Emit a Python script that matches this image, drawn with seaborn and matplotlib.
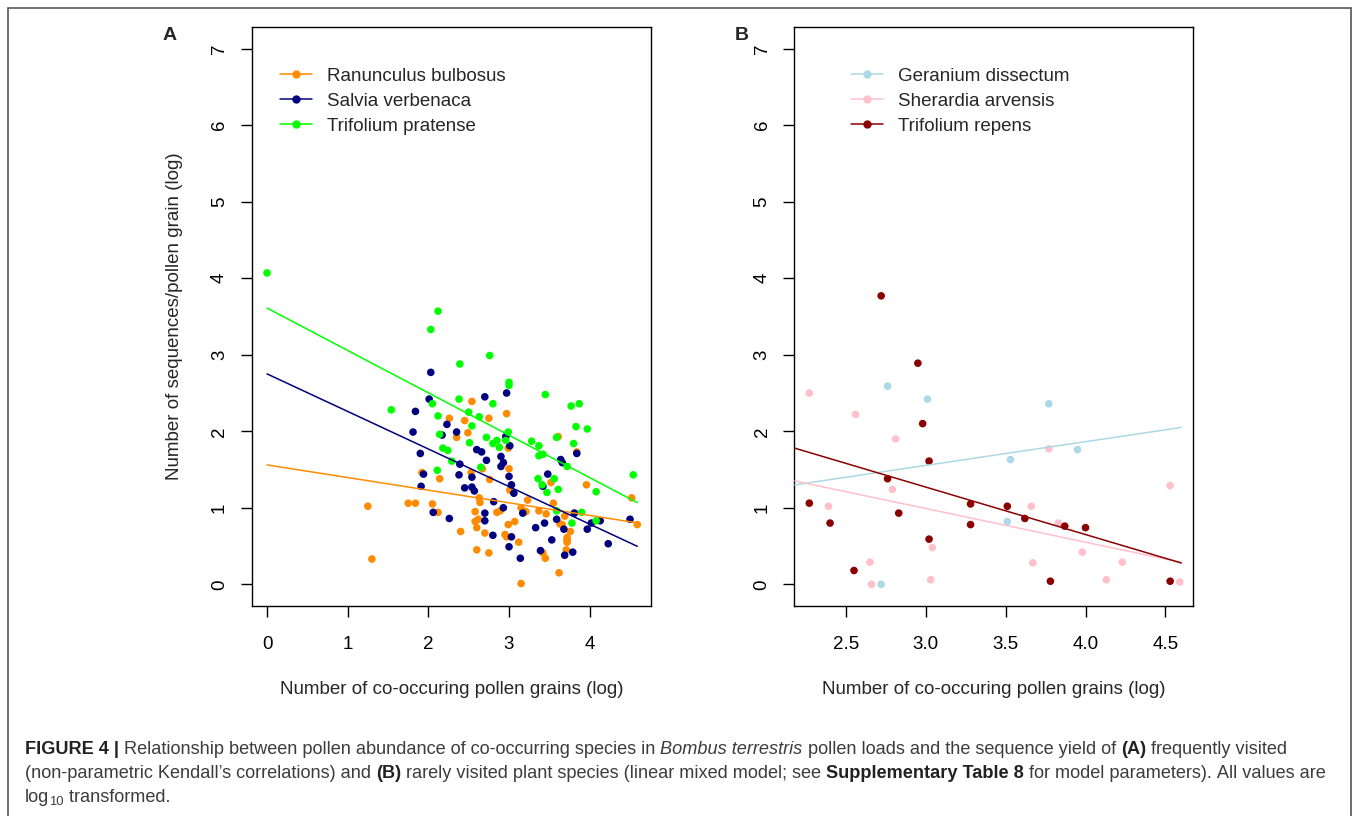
import matplotlib
matplotlib.use("Agg")
import matplotlib.pyplot as plt
import seaborn as sns
import pandas as pd
from matplotlib.lines import Line2D
from matplotlib.patches import Rectangle
from matplotlib import font_manager

# Panel A: frequently visited species (x = co-occurring grains, y = sequences/grain)
ranunculus_x = [2.54, 2.26, 2.75, 2.97, 2.45, 2.49, 2.35, 3.61, 2.99, 3.84, 1.92, 2.53, 2.67,
                3.00, 2.14, 2.76, 3.52, 3.96, 3.01, 2.63, 3.23, 3.55, 4.52, 1.75, 1.84, 2.05,
                2.64, 1.25, 3.15, 3.21, 3.37, 2.85, 2.89, 2.12, 2.58, 3.46, 3.69, 3.81, 2.62,
                2.58, 3.07, 2.99, 3.63, 3.66, 4.59, 2.60, 2.40, 2.70, 2.95, 2.97, 3.76, 3.72,
                3.72, 3.72, 3.12, 3.71, 2.60, 2.75, 3.42, 3.45, 1.30, 3.62, 3.15]
ranunculus_y = [2.39, 2.17, 2.17, 2.23, 2.14, 1.98, 1.92, 1.93, 1.78, 1.73, 1.46, 1.46, 1.51,
                1.51, 1.38, 1.37, 1.33, 1.30, 1.23, 1.13, 1.10, 1.06, 1.13, 1.06, 1.06, 1.05,
                1.07, 1.02, 1.00, 0.95, 0.96, 0.94, 0.96, 0.94, 0.95, 0.92, 0.89, 0.93, 0.85,
                0.82, 0.82, 0.78, 0.79, 0.78, 0.78, 0.74, 0.69, 0.67, 0.65, 0.62, 0.69, 0.61,
                0.58, 0.55, 0.55, 0.45, 0.45, 0.41, 0.41, 0.34, 0.33, 0.15, 0.01]
salvia_x = [2.03, 2.70, 2.97, 2.01, 1.84, 1.81, 2.23, 2.35, 2.17, 2.96, 3.01, 1.90, 2.60, 2.66,
            2.72, 2.90, 2.93, 2.90, 2.39, 3.84, 3.64, 3.66, 1.94, 2.38, 2.54, 3.00, 3.48, 1.91,
            2.45, 2.54, 2.57, 3.03, 3.06, 3.42, 2.81, 2.93, 2.06, 2.70, 3.17, 3.81, 2.26, 2.70,
            3.59, 4.13, 4.02, 4.50, 3.33, 3.44, 3.68, 3.97, 2.80, 3.03, 3.53, 4.23, 3.00, 3.39,
            3.79, 3.69, 3.14]
salvia_y = [2.77, 2.45, 2.50, 2.42, 2.26, 1.99, 2.09, 1.99, 1.95, 1.93, 1.81, 1.71, 1.76, 1.73,
            1.62, 1.67, 1.59, 1.54, 1.57, 1.71, 1.63, 1.59, 1.44, 1.43, 1.40, 1.41, 1.44, 1.28,
            1.26, 1.27, 1.22, 1.30, 1.19, 1.28, 1.08, 1.00, 0.94, 0.93, 0.93, 0.93, 0.86, 0.83,
            0.85, 0.83, 0.80, 0.85, 0.74, 0.80, 0.72, 0.72, 0.64, 0.62, 0.58, 0.53, 0.49, 0.44,
            0.42, 0.38, 0.34]
trifolium_p_x = [0.00, 2.12, 2.03, 2.76, 2.39, 3.00, 3.00, 3.45, 1.54, 2.05, 2.38, 2.80, 3.77,
                 3.87, 2.12, 2.50, 2.63, 2.54, 3.83, 3.97, 2.14, 2.99, 2.72, 2.80, 2.85, 2.51,
                 2.96, 2.88, 3.28, 3.37, 3.59, 3.80, 2.18, 2.24, 3.37, 3.42, 2.29, 3.72, 2.11,
                 2.65, 3.36, 3.56, 3.41, 3.61, 3.47, 4.08, 4.54, 3.59, 3.90, 3.78, 4.08]
trifolium_p_y = [4.07, 3.57, 3.33, 2.99, 2.88, 2.64, 2.60, 2.48, 2.28, 2.36, 2.42, 2.36, 2.33,
                 2.36, 2.20, 2.25, 2.19, 2.07, 2.06, 2.03, 1.96, 1.99, 1.92, 1.84, 1.88, 1.85,
                 1.88, 1.79, 1.87, 1.81, 1.92, 1.84, 1.78, 1.75, 1.68, 1.70, 1.61, 1.54, 1.49,
                 1.53, 1.38, 1.38, 1.30, 1.24, 1.20, 1.21, 1.43, 0.96, 0.94, 0.80, 0.83]

# Panel B: rarely visited species
geranium_x = [2.76, 3.01, 3.77, 3.53, 3.95, 3.51, 2.72]
geranium_y = [2.59, 2.42, 2.36, 1.63, 1.76, 0.82, 0.00]
sherardia_x = [2.27, 2.56, 2.81, 3.77, 4.53, 2.79, 2.39, 3.66, 3.83, 3.04, 3.98, 2.65, 3.67,
               4.23, 2.66, 3.03, 4.13, 4.59]
sherardia_y = [2.50, 2.22, 1.90, 1.77, 1.29, 1.24, 1.02, 1.02, 0.80, 0.48, 0.42, 0.29, 0.28,
               0.29, 0.00, 0.06, 0.06, 0.03]
trifolium_r_x = [2.72, 2.95, 2.98, 3.02, 2.76, 2.27, 3.28, 3.51, 2.40, 2.83, 3.28, 3.62, 3.87,
                 4.00, 3.02, 2.55, 3.78, 4.53]
trifolium_r_y = [3.77, 2.89, 2.10, 1.61, 1.38, 1.06, 1.05, 1.02, 0.80, 0.93, 0.78, 0.86, 0.76,
                 0.74, 0.59, 0.18, 0.04, 0.04]

# fitted lines (intercept, slope) and x-range they are drawn over
species_a = ["Ranunculus bulbosus", "Salvia verbenaca", "Trifolium pratense"]
intercept_a = [1.56, 2.75, 3.61]
slope_a = [-0.165, -0.491, -0.554]
range_a = [0.0, 4.59]

species_b = ["Geranium dissectum", "Sherardia arvensis", "Trifolium repens"]
intercept_b = [0.624, 2.31, 3.13]
slope_b = [0.31, -0.44, -0.62]
range_b = [2.18, 4.60]

colors_a = ["darkorange", "navy", "#00ff00"]
colors_b = ["lightblue", "pink", "darkred"]

sns.set_style("white")
plt.rcParams["font.family"] = ["Liberation Sans", "DejaVu Sans"]
available = {f.name for f in font_manager.fontManager.ttflist}
cap_font = "Liberation Sans Narrow" if "Liberation Sans Narrow" in available else "Liberation Sans"

W, H = 1357, 816
fig = plt.figure(figsize=(W / 100, H / 100), dpi=100)
fig.patch.set_facecolor("white")

axA = fig.add_axes([251.7 / W, 1 - 605.7 / H, (651 - 251.7) / W, (605.7 - 27.3) / H])
axB = fig.add_axes([794.3 / W, 1 - 605.7 / H, (1193.3 - 794.3) / W, (605.7 - 27.3) / H])

dfA = pd.concat([
    pd.DataFrame({"x": ranunculus_x, "y": ranunculus_y, "species": species_a[0]}),
    pd.DataFrame({"x": salvia_x, "y": salvia_y, "species": species_a[1]}),
    pd.DataFrame({"x": trifolium_p_x, "y": trifolium_p_y, "species": species_a[2]}),
], ignore_index=True)
dfB = pd.concat([
    pd.DataFrame({"x": geranium_x, "y": geranium_y, "species": species_b[0]}),
    pd.DataFrame({"x": sherardia_x, "y": sherardia_y, "species": species_b[1]}),
    pd.DataFrame({"x": trifolium_r_x, "y": trifolium_r_y, "species": species_b[2]}),
], ignore_index=True)


def draw_panel(ax, df, species, colors, intercepts, slopes, xr, xlim, xticks, xticklabels, legend_x):
    pal = dict(zip(species, colors))
    sns.scatterplot(data=df, x="x", y="y", hue="species", palette=pal, s=30,
                    edgecolor="none", linewidth=0, legend=False, ax=ax, zorder=2)
    for c, a, b in zip(colors, intercepts, slopes):
        ax.plot(xr, [a + b * xr[0], a + b * xr[1]], color=c, lw=1.1, zorder=3)
    ax.set_xlim(*xlim)
    ax.set_ylim(-0.28, 7.28)
    ax.set_xticks(xticks)
    ax.set_xticklabels(xticklabels)
    ax.set_yticks(range(8))
    ax.tick_params(direction="out", length=8, width=1, labelsize=13.5, colors="black",
                   bottom=True, left=True)
    ax.tick_params(axis="x", pad=14)
    ax.tick_params(axis="y", pad=9)
    for lab in ax.get_yticklabels():
        lab.set_rotation(90)
        lab.set_va("center")
    for sp in ax.spines.values():
        sp.set_visible(True)
        sp.set_color("black")
        sp.set_linewidth(1.0)
    ax.set_xlabel("Number of co-occuring pollen grains (log)", fontsize=13.5, labelpad=20)
    ax.set_ylabel("")
    handles = [Line2D([0], [0], color=c, lw=1.1, marker="o", markersize=6, markeredgewidth=0)
               for c in colors]
    ax.legend(handles, species, loc="upper left", bbox_to_anchor=(legend_x, 0.93),
              frameon=False, fontsize=13.5, handlelength=1.7, handletextpad=0.8,
              labelspacing=0.42, borderpad=0, borderaxespad=0)


draw_panel(axA, dfA, species_a, colors_a, intercept_a, slope_a, range_a,
           (-0.19, 4.76), [0, 1, 2, 3, 4], ["0", "1", "2", "3", "4"], 0.07)
draw_panel(axB, dfB, species_b, colors_b, intercept_b, slope_b, range_b,
           (2.176, 4.675), [2.5, 3.0, 3.5, 4.0, 4.5], ["2.5", "3.0", "3.5", "4.0", "4.5"], 0.142)

axA.set_ylabel("Number of sequences/pollen grain (log)", fontsize=13.5, labelpad=20)

fig.text(163 / W, 1 - 35 / H, "A", fontsize=14, fontweight="bold", va="center", ha="left")
fig.text(735 / W, 1 - 35 / H, "B", fontsize=14, fontweight="bold", va="center", ha="left")

# outer frame
fig.patches.append(Rectangle((8 / W, -0.05), (1351 - 8) / W, 1 - 8 / H + 0.05,
                             transform=fig.transFigure, fill=False, ec="#555555", lw=1.2))

# caption, written as runs of mixed style
caption = [
    [("FIGURE 4 |", "bold", "normal", 0), (" Relationship between pollen abundance of co-occurring species in ", "normal", "normal", 0),
     ("Bombus terrestris", "normal", "italic", 0), (" pollen loads and the sequence yield of ", "normal", "normal", 0),
     ("(A)", "bold", "normal", 0), (" frequently visited", "normal", "normal", 0)],
    [("(non-parametric Kendall\u2019s correlations) and ", "normal", "normal", 0), ("(B)", "bold", "normal", 0),
     (" rarely visited plant species (linear mixed model; see ", "normal", "normal", 0),
     ("Supplementary Table 8", "bold", "normal", 0), (" for model parameters). All values are", "normal", "normal", 0)],
    [("log", "normal", "normal", 0), ("10", "normal", "normal", 1), (" transformed.", "normal", "normal", 0)],
]
renderer = fig.canvas.get_renderer()


def run_width(text, weight, style, size):
    t = fig.text(0, 0, text.replace(" ", "\u00a0"), family=cap_font, fontsize=size,
                 fontweight=weight, fontstyle=style)
    w = t.get_window_extent(renderer).width
    t.remove()
    return w


base = 12.0
w1 = sum(run_width(r[0], r[1], r[2], base) for r in caption[0])
cap_size = base * (1287 - 25) / w1
line_y = [748, 772, 796]
for row, yy in zip(caption, line_y):
    x = 25
    for text, weight, style, sub in row:
        size = cap_size * (0.72 if sub else 1)
        dy = 5 if sub else 0
        fig.text(x / W, 1 - (yy + 1 + dy) / H, text.replace(" ", "\u00a0"), family=cap_font,
                 fontsize=size, fontweight=weight, fontstyle=style, va="center", ha="left",
                 color="#222222" if weight == "bold" else "#3c3c3c")
        x += run_width(text, weight, style, size)

fig.savefig("out.png", dpi=100, facecolor="white")
